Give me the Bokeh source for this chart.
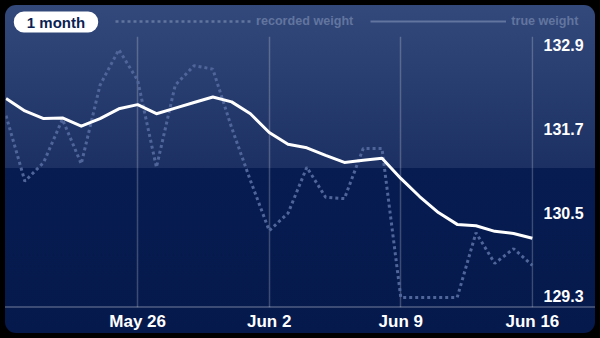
import pandas as pd
from datetime import timedelta
from bokeh.plotting import figure
from bokeh.models import Range1d, FixedTicker, Legend, LegendItem, Label, ColumnDataSource
from bokeh.layouts import column
from bokeh.embed import file_html
from bokeh.resources import INLINE

# ---- data -------------------------------------------------------------
dates = list(pd.date_range("2012-05-19", "2012-06-16", freq="D").to_pydatetime())
recorded_weight = [131.89, 130.95, 131.22, 131.84, 131.20, 132.33, 132.84, 132.40,
                   131.15, 132.33, 132.61, 132.56, 131.72, 130.96, 130.24, 130.49,
                   131.15, 130.72, 130.70, 131.42, 131.42, 129.28, 129.28, 129.28,
                   129.28, 130.21, 129.77, 129.98, 129.74]
true_weight = [132.14, 131.96, 131.85, 131.86, 131.74, 131.85, 131.99, 132.05,
               131.92, 132.00, 132.08, 132.16, 132.09, 131.92, 131.65, 131.48,
               131.43, 131.32, 131.22, 131.25, 131.28, 130.99, 130.73, 130.50,
               130.33, 130.31, 130.23, 130.20, 130.13]
date_tick_days = ["2012-05-26", "2012-06-02", "2012-06-09", "2012-06-16"]
date_tick_labels = ["May 26", "Jun 2", "Jun 9", "Jun 16"]
weight_ticks = [129.3, 130.5, 131.7, 132.9]
period_label = "1 month"
series_labels = ["recorded weight", "true weight"]

FONT = "Liberation Sans"
LEGEND_COLOR = "#62759f"
DOT_COLOR = "#50669a"

src = ColumnDataSource(dict(date=dates, recorded=recorded_weight, true=true_weight))
tick_ms = [int(pd.Timestamp(d).value // 10**6) for d in date_tick_days]

# ---- header strip (period pill + legend) -------------------------------
head = figure(width=590, height=31, x_range=Range1d(0, 590), y_range=Range1d(0, 31),
              x_axis_location=None, y_axis_location=None,
              output_backend="svg", toolbar_location=None,
              min_border=0, min_border_left=0, min_border_right=0,
              min_border_top=0, min_border_bottom=0, frame_align=False)
head.background_fill_alpha = 0
head.border_fill_alpha = 0
head.outline_line_color = None
head.grid.visible = False

# legend proxies: styled like the original's key, kept outside the visible range
proxy = ColumnDataSource(dict(x=[-50, -40], y=[-50, -50]))
leg_rec = head.line(x="x", y="y", source=proxy, line_color=LEGEND_COLOR,
                    line_width=2.5, line_dash="3 3")
leg_true = head.line(x="x", y="y", source=proxy, line_color=LEGEND_COLOR, line_width=2)
legend = Legend(items=[LegendItem(label=series_labels[0], renderers=[leg_rec]),
                       LegendItem(label=series_labels[1], renderers=[leg_true])],
                orientation="horizontal", location=(110, 8),
                glyph_width=136, glyph_height=14, label_height=14,
                label_standoff=5, spacing=17, padding=0, margin=0,
                background_fill_alpha=0, border_line_color=None,
                label_text_color=LEGEND_COLOR, label_text_font=FONT,
                label_text_font_style="bold", label_text_font_size="12.6px")
head.add_layout(legend)

pill = Label(x=50.5, y=14.5, x_units="screen", y_units="screen", text=period_label,
             text_align="center", text_baseline="middle", text_color="#0b1f53",
             text_font=FONT, text_font_style="bold", text_font_size="15px",
             background_fill_color="white", border_radius=10, padding=(13, 2))
head.add_layout(pill)

# ---- main chart ----------------------------------------------------------
p = figure(width=590, height=297, x_axis_type="datetime",
           x_range=Range1d(dates[0] - timedelta(days=0.03), dates[-1] + timedelta(days=0.06)),
           y_range=Range1d(129.136, 133.029),
           y_axis_location="right", output_backend="svg", toolbar_location=None,
           min_border_left=0, min_border_right=62, min_border_top=0, min_border_bottom=26,
           frame_align=False)

p.background_fill_alpha = 0
p.border_fill_alpha = 0
p.outline_line_color = None

# grid
p.xgrid.ticker = FixedTicker(ticks=tick_ms)
p.xgrid.grid_line_color = "white"
p.xgrid.grid_line_alpha = 0.22
p.xgrid.grid_line_width = 1.5
p.ygrid.grid_line_color = None

# x axis
p.xaxis.ticker = FixedTicker(ticks=tick_ms)
p.xaxis.major_label_overrides = {t: l for t, l in zip(tick_ms, date_tick_labels)}
p.xaxis.axis_line_color = None
p.xaxis.major_tick_line_color = None
p.xaxis.minor_tick_line_color = None
p.xaxis.major_tick_out = 0
p.xaxis.minor_tick_out = 0
p.xaxis.major_label_standoff = 4
p.xaxis.major_label_text_color = "white"
p.xaxis.major_label_text_font = FONT
p.xaxis.major_label_text_font_style = "bold"
p.xaxis.major_label_text_font_size = "17px"

# y axis
p.yaxis.ticker = FixedTicker(ticks=weight_ticks)
p.yaxis.axis_line_color = None
p.yaxis.major_tick_line_color = None
p.yaxis.minor_tick_line_color = None
p.yaxis.major_tick_out = 0
p.yaxis.minor_tick_out = 0
p.yaxis.major_label_standoff = 10
p.yaxis.major_label_text_color = "white"
p.yaxis.major_label_text_font = FONT
p.yaxis.major_label_text_font_style = "bold"
p.yaxis.major_label_text_font_size = "16px"

# series
p.line(x="date", y="recorded", source=src, line_color=DOT_COLOR, line_width=3,
       line_dash="3 3")
p.line(x="date", y="true", source=src, line_color="white", line_width=3,
       line_join="round")

panel = column(head, p, width=590, height=328, spacing=0, margin=(5, 5, 5, 5),
               styles={
                   "background": ("linear-gradient(to bottom, rgba(0,0,0,0) 301px, "
                                  "rgba(255,255,255,0.22) 301px, rgba(255,255,255,0.22) 303px, "
                                  "rgba(0,0,0,0) 303px), "
                                  "linear-gradient(to bottom, #33497b 0px, #1c3063 163px, "
                                  "#071c51 163px, #05194c 100%)"),
                   "border-radius": "11px",
               })

layout = column(panel, width=600, height=338, styles={"background-color": "black"})

open("out.html", "w").write(file_html(layout, INLINE))
